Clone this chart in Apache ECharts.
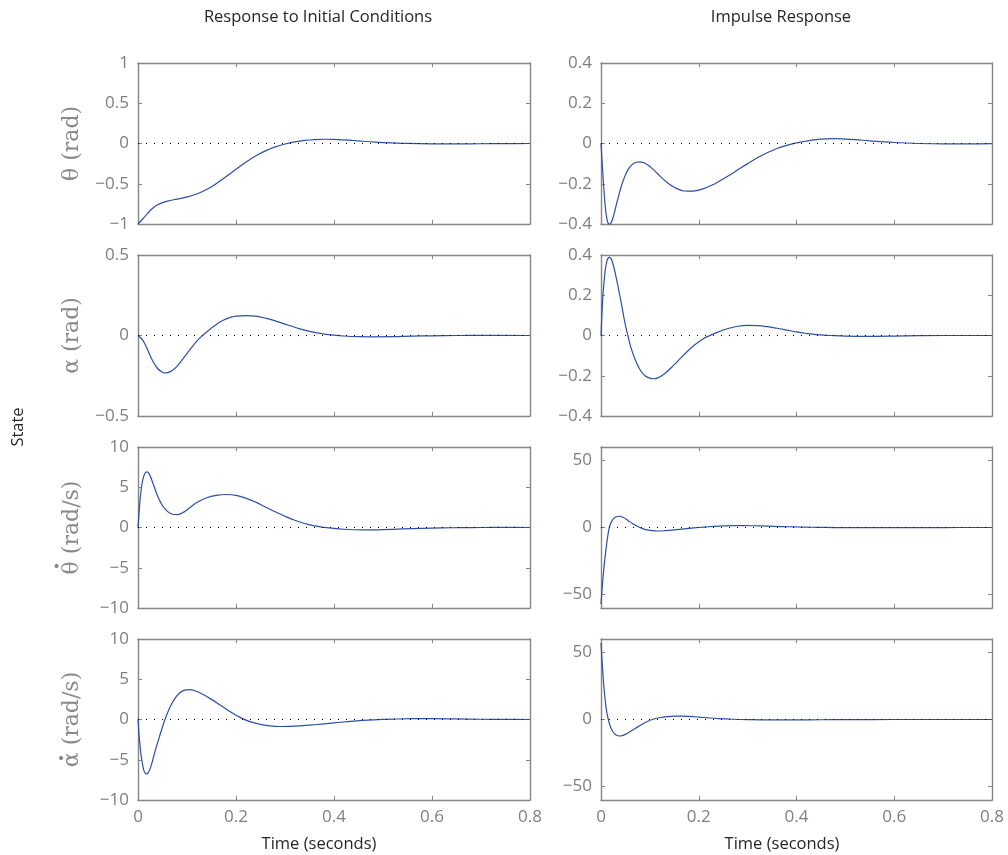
<!DOCTYPE html>
<html>
<head>
<meta charset="utf-8">
<script src="https://cdn.jsdelivr.net/npm/echarts@6/dist/echarts.min.js"></script>
<style>html,body{margin:0;padding:0;background:#fff}#c{width:1008px;height:855px}</style>
</head>
<body>
<div id="c"></div>
<script>
// ---- data ----
const colTitles = ['Response to Initial Conditions', 'Impulse Response'];
const xLabel = 'Time (seconds)';
const yLabelOuter = 'State';
const rowNames = ['\u03b8 (rad)', '\u03b1 (rad)', '\u03b8 (rad/s)', '\u03b1 (rad/s)'];
const rowDot = [false, false, true, true]; // time-derivative dot over the symbol
const dotChar = '\u00b7';

const t_thIC = [0,0.01,0.02,0.03,0.04,0.05,0.06,0.08,0.10,0.12,0.14,0.16,0.18,0.20,0.22,0.24,0.26,0.28,0.30,0.32,0.34,0.36,0.38,0.40,0.42,0.44,0.46,0.48,0.50,0.55,0.60,0.65,0.70,0.75,0.80];
const v_thIC = [-1,-0.935,-0.865,-0.805,-0.762,-0.735,-0.716,-0.69,-0.664,-0.628,-0.572,-0.497,-0.41,-0.32,-0.232,-0.156,-0.092,-0.042,-0.006,0.02,0.038,0.049,0.053,0.051,0.045,0.037,0.028,0.019,0.012,0.001,-0.004,-0.005,-0.003,-0.001,0];

const t_thIR = [0,0.003,0.006,0.009,0.012,0.015,0.018,0.021,0.025,0.03,0.035,0.04,0.046,0.052,0.058,0.065,0.072,0.08,0.088,0.096,0.105,0.115,0.125,0.135,0.148,0.16,0.172,0.182,0.195,0.21,0.225,0.24,0.26,0.28,0.30,0.32,0.34,0.36,0.38,0.40,0.42,0.44,0.46,0.48,0.50,0.52,0.55,0.60,0.65,0.70,0.75,0.80];
const v_thIR = [0,-0.12,-0.23,-0.32,-0.375,-0.398,-0.402,-0.392,-0.365,-0.318,-0.27,-0.225,-0.18,-0.145,-0.12,-0.102,-0.093,-0.091,-0.096,-0.107,-0.125,-0.148,-0.172,-0.193,-0.215,-0.229,-0.236,-0.237,-0.234,-0.224,-0.209,-0.19,-0.162,-0.131,-0.1,-0.071,-0.046,-0.025,-0.009,0.003,0.012,0.019,0.023,0.024,0.022,0.019,0.013,0.005,0.0,-0.002,-0.002,-0.001];

const t_alIC = [0,0.01,0.02,0.03,0.04,0.05,0.055,0.06,0.07,0.08,0.09,0.10,0.11,0.12,0.13,0.14,0.15,0.16,0.17,0.18,0.19,0.20,0.22,0.24,0.26,0.28,0.30,0.32,0.34,0.36,0.38,0.40,0.42,0.45,0.48,0.52,0.56,0.60,0.65,0.70,0.80];
const v_alIC = [0,-0.03,-0.092,-0.158,-0.205,-0.228,-0.233,-0.231,-0.217,-0.19,-0.152,-0.112,-0.072,-0.035,-0.005,0.022,0.047,0.069,0.088,0.103,0.114,0.12,0.124,0.12,0.108,0.091,0.071,0.051,0.033,0.019,0.009,0.002,-0.003,-0.007,-0.008,-0.007,-0.004,-0.002,0,0.001,0];

const t_alIR = [0,0.004,0.008,0.012,0.017,0.022,0.03,0.04,0.05,0.055,0.06,0.07,0.08,0.09,0.10,0.107,0.115,0.13,0.15,0.17,0.19,0.21,0.223,0.24,0.26,0.28,0.30,0.32,0.34,0.36,0.38,0.40,0.42,0.44,0.47,0.50,0.55,0.60,0.65,0.70,0.80];
const v_alIR = [0,0.2,0.31,0.37,0.388,0.375,0.3,0.18,0.05,0.0,-0.05,-0.12,-0.17,-0.2,-0.212,-0.215,-0.212,-0.19,-0.145,-0.095,-0.05,-0.015,0.0,0.018,0.035,0.046,0.05,0.049,0.044,0.036,0.027,0.018,0.01,0.004,0.0,-0.003,-0.004,-0.003,-0.001,0,0];

const t_thdIC = [0,0.003,0.006,0.01,0.014,0.018,0.022,0.03,0.04,0.05,0.06,0.07,0.08,0.09,0.10,0.12,0.14,0.16,0.18,0.20,0.22,0.24,0.26,0.28,0.30,0.32,0.34,0.36,0.38,0.40,0.42,0.44,0.46,0.48,0.50,0.54,0.58,0.62,0.66,0.70,0.75,0.80];
const v_thdIC = [0,2.5,4.5,6.0,6.7,6.9,6.75,5.6,3.9,2.7,2.0,1.65,1.6,1.8,2.2,3.1,3.7,4.0,4.1,4.0,3.65,3.15,2.55,1.95,1.4,0.9,0.5,0.2,0.02,-0.12,-0.22,-0.28,-0.3,-0.29,-0.26,-0.18,-0.1,-0.05,-0.02,0,0.01,0];

const t_thdIR = [0,0.002,0.004,0.006,0.008,0.011,0.014,0.017,0.021,0.026,0.031,0.037,0.045,0.055,0.065,0.075,0.085,0.095,0.105,0.117,0.13,0.15,0.17,0.19,0.21,0.23,0.25,0.27,0.29,0.31,0.34,0.37,0.40,0.43,0.46,0.50,0.55,0.60,0.65,0.70,0.80];
const v_thdIR = [-57,-47,-38,-30,-23,-14,-6,0,4,6.8,8.0,8.4,7.6,5.3,2.8,0.8,-0.8,-1.8,-2.4,-2.6,-2.4,-1.8,-1.0,-0.3,0.3,0.8,1.2,1.4,1.4,1.3,1.0,0.7,0.4,0.2,0.05,-0.1,-0.15,-0.12,-0.06,-0.02,0];

const t_aldIC = [0,0.003,0.006,0.01,0.013,0.017,0.021,0.027,0.035,0.045,0.055,0.065,0.075,0.085,0.095,0.105,0.115,0.13,0.15,0.17,0.19,0.21,0.23,0.25,0.27,0.29,0.31,0.33,0.36,0.40,0.44,0.48,0.52,0.56,0.60,0.65,0.70,0.75,0.80];
const v_aldIC = [0,-2.5,-4.3,-5.8,-6.5,-6.75,-6.6,-5.7,-3.9,-1.9,0,1.5,2.6,3.3,3.65,3.7,3.6,3.2,2.5,1.7,0.9,0.2,-0.3,-0.6,-0.8,-0.87,-0.86,-0.8,-0.65,-0.42,-0.2,-0.05,0.05,0.1,0.1,0.07,0.03,0.01,0];

const t_aldIR = [0,0.002,0.004,0.006,0.009,0.012,0.016,0.02,0.025,0.031,0.038,0.045,0.055,0.065,0.075,0.085,0.095,0.105,0.12,0.135,0.15,0.165,0.18,0.2,0.22,0.24,0.27,0.30,0.35,0.40,0.45,0.50,0.60,0.80];
const v_aldIR = [57,45,34,24,13,5,-1.5,-6,-9.5,-11.6,-12.3,-11.8,-10,-7.8,-5.5,-3.3,-1.5,0,1.3,2.1,2.5,2.5,2.3,1.8,1.2,0.7,0.2,-0.1,-0.3,-0.3,-0.2,-0.1,0,0];

// y-axis settings per row, per column
const yRanges = [
  [{min:-1,max:1,interval:0.5},{min:-0.4,max:0.4,interval:0.2}],
  [{min:-0.5,max:0.5,interval:0.5},{min:-0.4,max:0.4,interval:0.2}],
  [{min:-10,max:10,interval:5},{min:-60,max:60,ticks:[-50,0,50]}],
  [{min:-10,max:10,interval:5},{min:-60,max:60,ticks:[-50,0,50]}]
];
const seriesT = [[t_thIC,t_thIR],[t_alIC,t_alIR],[t_thdIC,t_thdIR],[t_aldIC,t_aldIR]];
const seriesV = [[v_thIC,v_thIR],[v_alIC,v_alIR],[v_thdIC,v_thdIR],[v_aldIC,v_aldIR]];

// ---- layout ----
const colLeft = [138, 601], colWidth = [392, 391];
const rowTop = [63, 255, 447, 639], rowHeight = 161;
const boxColor = '#858585', labelColor = '#7f7f7f', lineColor = '#2d4fa6', nameColor = '#8a8a8a';
const tickFont = 'Open Sans';
const nameFontSize = 22, nameFont = 'DejaVu Serif', nameGap = 55;
const dotLift = [0, 0, 1.2, 1.0]; // dot distance above the glyph, in em
const fmt = v => (Math.abs(v) < 1e-9 ? '0' : String(+v.toFixed(4)).replace('-', '\u2212'));

const grid = [], xAxis = [], yAxis = [], series = [];
let gi = 0;
for (let r = 0; r < 4; r++) {
  for (let c = 0; c < 2; c++) {
    grid.push({left: colLeft[c], top: rowTop[r], width: colWidth[c], height: rowHeight, containLabel: false});
    const axLine = {show: true, onZero: false, lineStyle: {color: boxColor, width: 1.4}};
    const tick = {show: true, inside: true, length: 4, lineStyle: {color: boxColor, width: 1}};
    const xBase = {type: 'value', gridIndex: gi, min: 0, max: 0.8, interval: 0.2, splitLine: {show: false}, axisLine: axLine, axisTick: tick};
    xAxis.push(Object.assign({}, xBase, {position: 'bottom',
      axisLabel: {show: r === 3, color: labelColor, fontSize: 17, fontFamily: tickFont, margin: 9, formatter: fmt}}));
    xAxis.push(Object.assign({}, xBase, {position: 'top', axisLabel: {show: false}}));
    const yr = yRanges[r][c];
    const yBase = {type: 'value', gridIndex: gi, min: yr.min, max: yr.max, splitLine: {show: false}, axisLine: axLine};
    if (yr.ticks) {
      yBase.axisTick = Object.assign({}, tick, {customValues: yr.ticks});
    } else {
      yBase.interval = yr.interval;
      yBase.axisTick = tick;
    }
    const yl = {show: true, color: labelColor, fontSize: 17, fontFamily: tickFont, margin: 9, formatter: fmt};
    if (yr.ticks) yl.customValues = yr.ticks;
    const yLeft = Object.assign({}, yBase, {position: 'left', axisLabel: yl});
    if (c === 0) {
      Object.assign(yLeft, {name: rowNames[r], nameLocation: 'middle', nameRotate: 90, nameGap: nameGap,
        nameTextStyle: {color: nameColor, fontSize: nameFontSize, fontFamily: nameFont}});
    }
    yAxis.push(yLeft);
    yAxis.push(Object.assign({}, yBase, {position: 'right', axisLabel: {show: false}}));
    const data = seriesT[r][c].map((t, i) => [t, seriesV[r][c][i]]);
    series.push({
      type: 'line', xAxisIndex: 2 * gi, yAxisIndex: 2 * gi, data: data,
      showSymbol: false, smooth: 0.4, clip: true,
      lineStyle: {color: lineColor, width: 1.2}, animation: false,
      markLine: {silent: true, symbol: 'none', label: {show: false}, animation: false,
        lineStyle: {color: '#000', type: [1, 7], width: 1}, data: [{yAxis: 0}]}
    });
    gi++;
  }
}

// measure names to place the derivative dots above the first symbol
const mctx = document.createElement('canvas').getContext('2d');
mctx.font = nameFontSize + 'px "' + nameFont + '"';
const dots = [];
for (let r = 0; r < 4; r++) {
  if (!rowDot[r]) continue;
  const L = mctx.measureText(rowNames[r]).width;
  const w0 = mctx.measureText(rowNames[r][0]).width;
  const midY = rowTop[r] + rowHeight / 2;
  dots.push({type: 'text', x: colLeft[0] - nameGap - nameFontSize * dotLift[r], y: midY + L / 2 - w0 / 2,
    style: {text: dotChar, fill: nameColor, font: 'bold ' + nameFontSize + 'px "' + nameFont + '"',
      textAlign: 'center', textVerticalAlign: 'middle'}});
}

const chart = echarts.init(document.getElementById('c'), null, {renderer: 'canvas'});
const txt = (s, x, y, rot) => ({type: 'text', x: x, y: y, rotation: rot || 0,
  style: {text: s, fill: '#262626', font: '16.5px "Open Sans"', textAlign: 'center', textVerticalAlign: 'middle'}});
chart.setOption({
  backgroundColor: '#fff',
  animation: false,
  grid, xAxis, yAxis, series,
  graphic: [
    txt(colTitles[0], 318, 17),
    txt(colTitles[1], 781, 17),
    txt(xLabel, 319, 844),
    txt(xLabel, 782, 844),
    txt(yLabelOuter, 18, 427, Math.PI / 2)
  ].concat(dots)
});
</script>
</body>
</html>
